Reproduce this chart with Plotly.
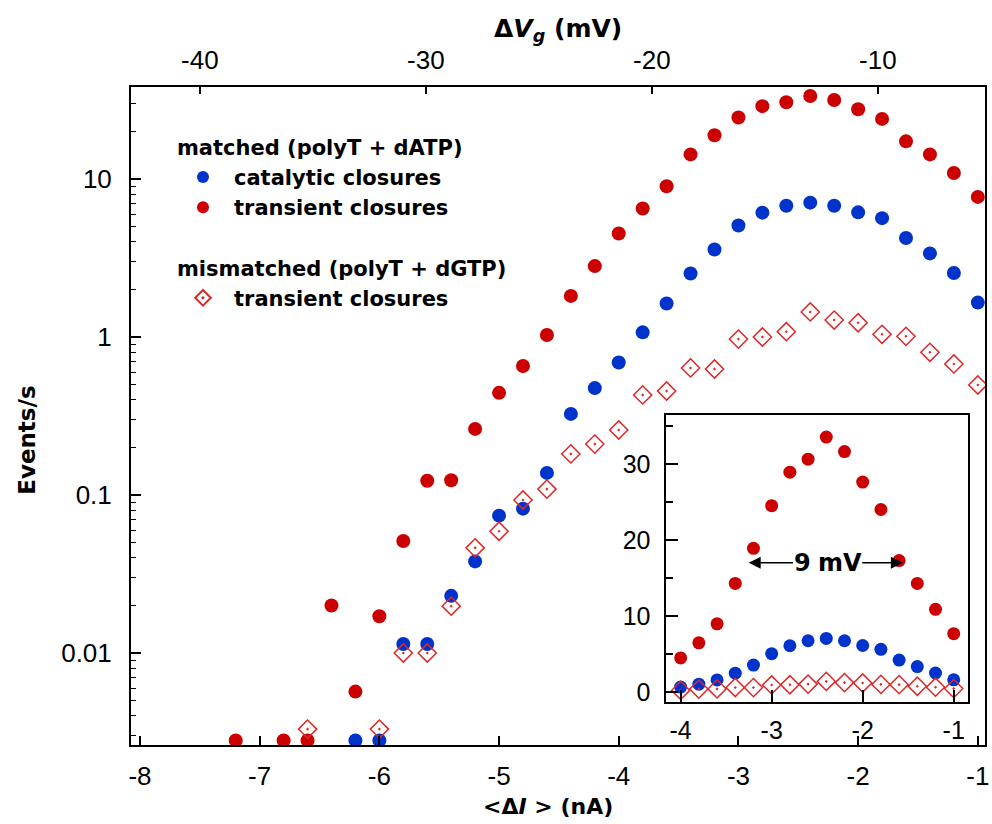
import plotly.graph_objects as go

# ---------------- data ----------------
cat_x = [-6.2, -6.0, -5.8, -5.6, -5.4, -5.2, -5.0, -4.8, -4.6, -4.4, -4.2, -4.0, -3.8, -3.6,
         -3.4, -3.2, -3.0, -2.8, -2.6, -2.4, -2.2, -2.0, -1.8, -1.6, -1.4, -1.2, -1.0]
cat_y = [0.0028, 0.0028, 0.0114, 0.0114, 0.023, 0.038, 0.074, 0.082, 0.138, 0.326, 0.475, 0.69,
         1.07, 1.63, 2.52, 3.58, 5.08, 6.12, 6.77, 7.08, 6.77, 6.15, 5.65, 4.23, 3.38, 2.54, 1.65]

tr_x = [-7.2, -6.8, -6.6, -6.4, -6.2, -6.0, -5.8, -5.6, -5.4, -5.2, -5.0, -4.8, -4.6, -4.4, -4.2,
        -4.0, -3.8, -3.6, -3.4, -3.2, -3.0, -2.8, -2.6, -2.4, -2.2, -2.0, -1.8, -1.6, -1.4, -1.2, -1.0]
tr_y = [0.0028, 0.0028, 0.0028, 0.020, 0.0057, 0.0171, 0.0512, 0.123, 0.124, 0.262, 0.443, 0.655,
        1.03, 1.82, 2.81, 4.52, 6.5, 9.0, 14.3, 18.9, 24.5, 28.9, 30.6, 33.5, 31.6, 27.6, 24.0,
        17.3, 14.3, 10.9, 7.7]

mm_x = [-6.6, -6.0, -5.8, -5.6, -5.4, -5.2, -5.0, -4.8, -4.6, -4.4, -4.2, -4.0, -3.8, -3.6, -3.4,
        -3.2, -3.0, -2.8, -2.6, -2.4, -2.2, -2.0, -1.8, -1.6, -1.4, -1.2, -1.0]
mm_y = [0.0033, 0.0033, 0.010, 0.010, 0.0198, 0.0463, 0.059, 0.093, 0.109, 0.182, 0.210, 0.258,
        0.430, 0.455, 0.637, 0.627, 0.97, 1.00, 1.08, 1.44, 1.28, 1.23, 1.04, 1.01, 0.80, 0.675, 0.497]

x_ticks = [-8, -7, -6, -5, -4, -3, -2, -1]
x_ticktext = ["-8", "-7", "-6", "-5", "-4", "-3", "-2", "-1"]
y_ticks = [0.01, 0.1, 1, 10]
y_ticktext = ["0.01", "0.1", "1", "10"]
top_ticks = [-40, -30, -20, -10]
top_ticktext = ["-40", "-30", "-20", "-10"]
inset_xticks = [-4, -3, -2, -1]
inset_xticktext = ["-4", "-3", "-2", "-1"]
inset_yticks = [0, 10, 20, 30]

# conversion nA -> mV for the top axis
MV_PER_NA = 5.296
MV_OFFSET = -0.28

BLUE = "rgb(0,51,204)"
RED = "rgb(204,0,0)"
DRED = "rgb(222,40,40)"
FONT = "Arial, Liberation Sans, sans-serif"
BFONT = "DejaVu Sans, sans-serif"

x_range = [-8.075, -0.94]
top_range = [x_range[0] * MV_PER_NA + MV_OFFSET, x_range[1] * MV_PER_NA + MV_OFFSET]

minor_vals = []
for dec in [0.001, 0.01, 0.1, 1, 10]:
    for k in range(2, 10):
        minor_vals.append(k * dec)

fig = go.Figure()

gt_font = dict(size=21, color="black", family=BFONT, weight="bold")
fig.add_trace(go.Scatter(x=cat_x, y=cat_y, mode="markers", name="catalytic closures",
                         legendgroup="m", legendgrouptitle=dict(text="matched (polyT + dATP)", font=gt_font),
                         marker=dict(color=BLUE, size=14, line=dict(width=0))))
fig.add_trace(go.Scatter(x=tr_x, y=tr_y, mode="markers", name="transient closures",
                         legendgroup="m",
                         marker=dict(color=RED, size=14, line=dict(width=0))))
fig.add_trace(go.Scatter(x=mm_x, y=mm_y, mode="markers", name="transient closures",
                         legendgroup="mm", legendgrouptitle=dict(text="mismatched (polyT + dGTP)", font=gt_font),
                         marker=dict(color=DRED, size=14, symbol="diamond-open-dot", line=dict(width=1.5, color=DRED))))

# dummy trace to carry the top axis
fig.add_trace(go.Scatter(x=[], y=[], xaxis="x2", yaxis="y", showlegend=False, hoverinfo="skip"))

# inset traces (linear scale, x >= -4)
def sub(xs, ys):
    px, py = [], []
    for a, b in zip(xs, ys):
        if a >= -4.05:
            px.append(a)
            py.append(b)
    return px, py

for xs, ys, col, sym, lw in [(cat_x, cat_y, BLUE, "circle", 0), (tr_x, tr_y, RED, "circle", 0),
                             (mm_x, mm_y, DRED, "diamond-open-dot", 1.5)]:
    px, py = sub(xs, ys)
    fig.add_trace(go.Scatter(x=px, y=py, mode="markers", xaxis="x3", yaxis="y3", showlegend=False,
                             marker=dict(color=col, size=13 if sym == "circle" else 14, symbol=sym,
                                         line=dict(width=lw, color=col))))

axis_common = dict(showline=True, linecolor="black", linewidth=2, ticks="inside",
                   tickcolor="black", showgrid=False, zeroline=False,
                   tickfont=dict(size=26, color="black", family=FONT))
inset_common = dict(showline=True, linecolor="black", linewidth=2, ticks="inside", tickcolor="black",
                    showgrid=False, zeroline=False, mirror=True,
                    tickfont=dict(size=25, color="black", family=FONT))

fig.update_layout(
    width=992, height=824,
    margin=dict(l=131, r=3, t=87, b=79),
    paper_bgcolor="white", plot_bgcolor="white",
    font=dict(family=FONT, color="black"),
    xaxis=dict(range=x_range, tickvals=x_ticks, ticktext=x_ticktext, ticklen=9, tickwidth=2,
               mirror=True, ticklabelstandoff=7, **axis_common),
    xaxis2=dict(range=top_range, overlaying="x", side="top", anchor="y", tickvals=top_ticks,
                ticktext=top_ticktext, ticklen=7, tickwidth=2, ticklabelstandoff=6, **axis_common),
    yaxis=dict(type="log", range=[-2.582, 1.582], tickvals=y_ticks, ticktext=y_ticktext,
               ticklen=10, tickwidth=1.5, mirror=True, ticklabelstandoff=12,
               minor=dict(ticks="inside", ticklen=5, tickcolor="black", tickvals=minor_vals, tickwidth=1),
               **axis_common),
    xaxis3=dict(domain=[0.627, 0.980], anchor="y3", range=[-4.156, -0.844], tickvals=inset_xticks,
                ticktext=inset_xticktext, ticklen=12, tickwidth=2, ticklabelstandoff=5, **inset_common),
    yaxis3=dict(domain=[0.0653, 0.5015], anchor="x3", range=[-1.27, 36.4], tickvals=inset_yticks,
                ticklen=12, tickwidth=2, ticklabelstandoff=9,
                minor=dict(ticks="inside", ticklen=7, tickcolor="black", tickvals=[5, 15, 25, 35], tickwidth=2),
                **inset_common),
    legend=dict(x=0.048, y=0.94, xanchor="left", yanchor="top", bgcolor="rgba(0,0,0,0)",
                font=dict(size=21, color="black", family=BFONT, weight="bold"),
                itemsizing="constant", itemwidth=52, tracegroupgap=30, groupclick="toggleitem"),
    showlegend=True,
)

ARW = dict(showarrow=True, arrowhead=2, arrowsize=1.6, arrowwidth=1.5, arrowcolor="black",
           xref="x3", yref="y3", axref="x3", ayref="y3", standoff=0,
           font=dict(size=24, color="black", family=BFONT, weight="bold"))
annotations = [
    dict(text="Δ<i>V</i><sub><i>g</i></sub> (mV)", xref="paper", yref="paper", x=0.5, y=1.0866,
         xanchor="center", yanchor="middle", showarrow=False,
         font=dict(size=25, color="black", family=BFONT, weight="bold")),
    dict(text="&lt;Δ<i>I</i> &gt; (nA)", xref="paper", yref="paper", x=0.488, y=-0.094,
         xanchor="center", yanchor="middle", showarrow=False,
         font=dict(size=22, color="black", family=BFONT, weight="bold")),
    dict(text="Events/s", xref="paper", yref="paper", x=-0.122, y=(745 - 440) / 658,
         xanchor="center", yanchor="middle", textangle=-90, showarrow=False,
         font=dict(size=23, color="black", family=BFONT, weight="bold")),
    dict(text="9", x=-3.2525, y=17.0, ax=-2.666, ay=17.0, borderpad=0, **ARW),
    dict(text="mV", x=-1.5585, y=17.0, ax=-2.2525, ay=17.0, borderpad=0, **ARW),
]
fig.update_layout(annotations=annotations)

fig.write_html("out.html")
